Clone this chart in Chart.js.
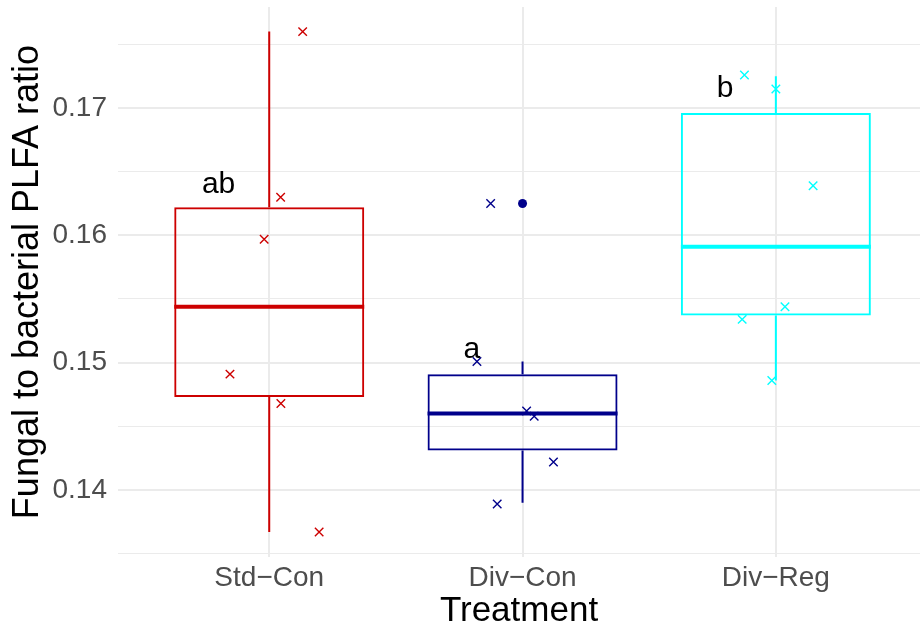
<!DOCTYPE html>
<html>
<head>
<meta charset="utf-8">
<script src="https://cdn.jsdelivr.net/npm/chart.js@4.4.1/dist/chart.umd.min.js"></script>
<style>
  body { margin: 0; background: #fff; }
  canvas { display: block; }
</style>
</head>
<body>
<canvas id="chart" width="920" height="630"></canvas>
<script>
// Treatment groups and box statistics
const treatments = ['Std\u2212Con', 'Div\u2212Con', 'Div\u2212Reg'];
const colors = ['#CD0000', '#00008B', '#00FFFF'];

const whiskerLow  = [0.1367, 0.1390, 0.1486];
const q1          = [0.1473, 0.1431, 0.1537];
const medians     = [0.1544, 0.1460, 0.1591];
const q3          = [0.1622, 0.1491, 0.1696];
const whiskerHigh = [0.1760, 0.1501, 0.1725];

// outliers (plotted as filled dots at the group centre)
const outlierGroup = [1];
const outlierValue = [0.1625];

// jittered raw observations: x is the jittered position, y the ratio
const stdConX = [0.132, 0.045, -0.020, -0.155, 0.046, 0.197];
const stdConY = [0.1760, 0.1630, 0.1597, 0.1491, 0.1468, 0.1367];
const divConX = [-0.126, -0.180, 0.016, 0.046, 0.122, -0.100];
const divConY = [0.1625, 0.1501, 0.1462, 0.1458, 0.1422, 0.1389];
const divRegX = [-0.124, 0.000, 0.147, 0.036, -0.133, -0.016];
const divRegY = [0.1726, 0.1715, 0.1639, 0.1544, 0.1534, 0.1486];

// significance letters
const letters = ['ab', 'a', 'b'];
const letterX = [-0.2, 0.8, 1.8];
const letterY = [0.1640, 0.1510, 0.1715];

const yTicks = [0.14, 0.15, 0.16, 0.17];

const FONT = "'Liberation Sans', Arial, Helvetica, sans-serif";
const BOX_HALF = 0.375;

const pointsX = [stdConX, divConX, divRegX];
const pointsY = [stdConY, divConY, divRegY];

const datasets = [];

// boxes as floating bars
datasets.push({
  type: 'bar',
  data: treatments.map((t, i) => ({ x: i, y: [q1[i], q3[i]] })),
  backgroundColor: 'rgba(255,255,255,0)',
  borderColor: colors,
  borderWidth: 2,
  borderSkipped: false,
  barPercentage: 0.75,
  categoryPercentage: 1,
  grouped: false,
  order: 3
});

treatments.forEach((t, i) => {
  // whiskers
  datasets.push({
    type: 'line',
    data: [
      { x: i, y: whiskerLow[i] }, { x: i, y: q1[i] },
      { x: i, y: null },
      { x: i, y: q3[i] }, { x: i, y: whiskerHigh[i] }
    ],
    borderColor: colors[i],
    borderWidth: 2,
    pointRadius: 0,
    spanGaps: false,
    order: 2
  });
  // median
  datasets.push({
    type: 'line',
    data: [{ x: i - BOX_HALF, y: medians[i] }, { x: i + BOX_HALF, y: medians[i] }],
    borderColor: colors[i],
    borderWidth: 4,
    pointRadius: 0,
    order: 2
  });
  // jittered observations
  datasets.push({
    type: 'scatter',
    data: pointsX[i].map((dx, k) => ({ x: i + dx, y: pointsY[i][k] })),
    pointStyle: 'crossRot',
    pointRadius: 6,
    pointBorderWidth: 1.4,
    borderColor: colors[i],
    backgroundColor: colors[i],
    order: 1
  });
});

// outlier dots
datasets.push({
  type: 'scatter',
  data: outlierGroup.map((g, k) => ({ x: g, y: outlierValue[k] })),
  pointStyle: 'circle',
  pointRadius: 4.5,
  pointBorderWidth: 0,
  backgroundColor: outlierGroup.map(g => colors[g]),
  order: 1
});

// letters above boxes
const letterPlugin = {
  id: 'letters',
  afterDatasetsDraw(chart) {
    const { ctx, scales } = chart;
    ctx.save();
    ctx.font = '30px ' + FONT;
    ctx.fillStyle = '#000';
    ctx.textAlign = 'center';
    ctx.textBaseline = 'middle';
    letters.forEach((l, i) => {
      ctx.fillText(l, scales.x.getPixelForValue(letterX[i]), scales.y.getPixelForValue(letterY[i]));
    });
    ctx.restore();
  }
};

const isMajor = v => yTicks.some(t => Math.abs(t - v) < 1e-9);

new Chart(document.getElementById('chart'), {
  data: { datasets },
  plugins: [letterPlugin],
  options: {
    responsive: false,
    animation: false,
    layout: { autoPadding: false, padding: { top: 7, right: 0, bottom: 0, left: 0 } },
    plugins: { legend: { display: false }, tooltip: { enabled: false } },
    scales: {
      x: {
        type: 'linear',
        offset: false,
        min: -0.597,
        max: 2.569,
        afterFit: s => { s.height = 73; s.paddingLeft = 0; s.paddingRight = 0; },
        afterBuildTicks: s => { s.ticks = treatments.map((t, i) => ({ value: i })); },
        grid: { color: '#EBEBEB', lineWidth: 2, drawTicks: false, offset: false },
        border: { display: false },
        ticks: {
          padding: 4,
          color: '#4D4D4D',
          font: { family: FONT, size: 28 },
          callback: v => treatments[v]
        },
        title: {
          display: true,
          text: 'Treatment',
          color: '#000',
          font: { family: FONT, size: 35, lineHeight: 1 },
          padding: { top: 0, bottom: 1 }
        }
      },
      y: {
        type: 'linear',
        min: 0.134737,
        max: 0.177934,
        afterFit: s => { s.width = 118; s.paddingTop = 0; s.paddingBottom = 0; },
        grid: {
          color: '#EBEBEB',
          lineWidth: c => (c.tick && isMajor(c.tick.value) ? 2 : 1.1),
          drawTicks: false
        },
        border: { display: false },
        ticks: {
          stepSize: 0.005,
          includeBounds: false,
          padding: 11,
          color: '#4D4D4D',
          font: { family: FONT, size: 28 },
          callback: v => (isMajor(v) ? v.toFixed(2) : '')
        },
        title: {
          display: true,
          text: 'Fungal to bacterial PLFA ratio',
          color: '#000',
          font: { family: FONT, size: 36, lineHeight: 1.2 },
          padding: { top: 6, bottom: 0 }
        }
      }
    }
  }
});
</script>
</body>
</html>
